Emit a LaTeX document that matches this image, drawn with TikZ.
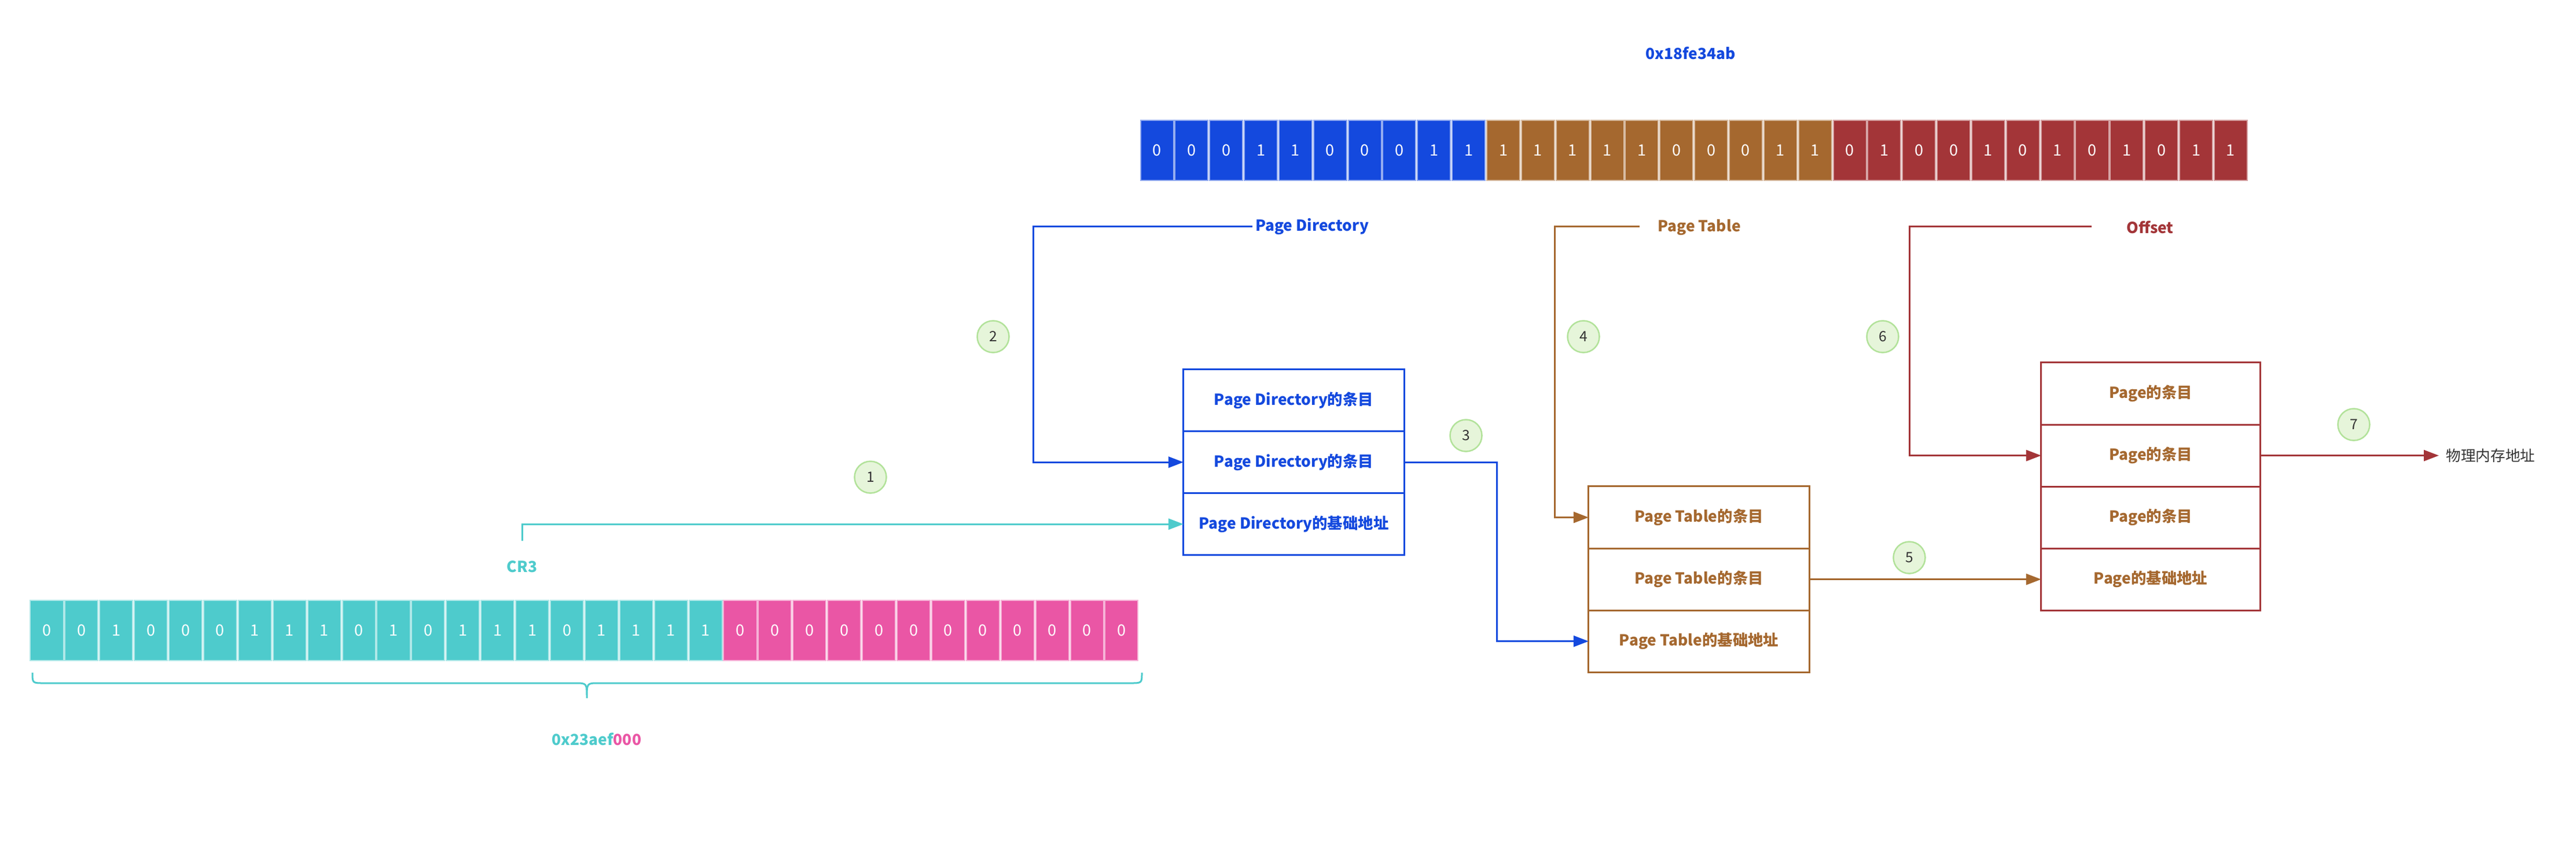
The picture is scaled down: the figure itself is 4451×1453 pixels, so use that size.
\documentclass[tikz,border=0pt]{standalone}
\usepackage{fontspec}
\setmainfont{Noto Sans CJK SC}
\usetikzlibrary{calc}
\usetikzlibrary{positioning}
\usetikzlibrary{arrows.meta}

\definecolor{pdblue}{HTML}{1449DE}
\definecolor{ptbrown}{HTML}{A5682F}
\definecolor{offred}{HTML}{A33538}
\definecolor{crteal}{HTML}{4ECBCC}
\definecolor{lowpink}{HTML}{EA56A5}
\definecolor{circfill}{HTML}{E6F5DA}
\definecolor{circdraw}{HTML}{B2E29A}
\definecolor{textgray}{HTML}{333333}

\tikzset{
    bit/.style={minimum width=0.57cm, minimum height=1.03cm, inner sep=0pt, draw=#1!45!white, fill=#1, line width=0.02cm, text=white, font=\fontsize{7.7}{9}\selectfont},
    entry/.style={draw=#1, line width=0.03cm, minimum height=1.07cm, outer sep=0pt, inner sep=0pt, fill=white, font=\fontsize{7.5}{9}\selectfont\bfseries},
    lbl/.style={inner sep=2pt, font=\fontsize{7.5}{9}\selectfont\bfseries},
    num/.style={circle, draw=circdraw, fill=circfill, line width=0.025cm, minimum size=0.55cm, inner sep=0pt, text=textgray, font=\fontsize{7}{8}\selectfont},
    link/.style={line width=0.03cm, draw=#1, -{Triangle[length=0.26cm, width=0.19cm, fill=#1]}},
}

\begin{document}
\begin{tikzpicture}[x=0.01cm, y=-0.01cm]
    \useasboundingbox (0,0) rectangle (4451,1453);

    % virtual address bits
    \foreach \b [count=\i from 0] in {0,0,0,1,1,0,0,0,1,1}
        \node[bit=pdblue] (va\i) at ({1999+59.85*\i},260) {\b};
    \foreach \b [count=\i from 10] in {1,1,1,1,1,0,0,0,1,1}
        \node[bit=ptbrown] (va\i) at ({1999+59.85*\i},260) {\b};
    \foreach \b [count=\i from 20] in {0,1,0,0,1,0,1,0,1,0,1,1}
        \node[bit=offred] (va\i) at ({1999+59.85*\i},260) {\b};
    \node[lbl, text=pdblue] (vaddr) at (2921,92) {0x18fe34ab};

    % CR3 bits
    \foreach \b [count=\i from 0] in {0,0,1,0,0,0,1,1,1,0,1,0,1,1,1,0,1,1,1,1}
        \node[bit=crteal] (cr\i) at ({81+59.9*\i},1090) {\b};
    \foreach \i in {20,...,31}
        \node[bit=lowpink] (cr\i) at ({81+59.9*\i},1090) {0};
    \draw[crteal, line width=0.03cm] (56,1163) .. controls (56,1181) .. (76,1181) -- (994,1181)
        .. controls (1014,1181) .. (1014,1207) .. controls (1014,1181) .. (1034,1181)
        -- (1953,1181) .. controls (1973,1181) .. (1973,1163);
    \node[lbl] (cr3val) at (1031,1278) {\textcolor{crteal}{0x23aef}\textcolor{lowpink}{000}};
    \node[lbl, text=crteal] (cr3lbl) at (902,980) {CR3};

    % labels above the tables
    \node[lbl, text=pdblue] (pdlbl) at (2267,392) {Page Directory};
    \node[lbl, text=ptbrown] (ptlbl) at (2936,393) {Page Table};
    \node[lbl, text=offred] (offlbl) at (3715,393) {Offset};

    % page directory
    \node[entry=pdblue, text=pdblue, minimum width=3.81cm] (pd1) at (2235.5,692) {Page Directory的条目};
    \node[entry=pdblue, text=pdblue, minimum width=3.81cm, below=0pt of pd1] (pd2) {Page Directory的条目};
    \node[entry=pdblue, text=pdblue, minimum width=3.81cm, below=0pt of pd2] (pd3) {Page Directory的基础地址};

    % page table
    \node[entry=ptbrown, text=ptbrown, minimum width=3.81cm] (pt1) at (2935.5,894.5) {Page Table的条目};
    \node[entry=ptbrown, text=ptbrown, minimum width=3.81cm, below=0pt of pt1] (pt2) {Page Table的条目};
    \node[entry=ptbrown, text=ptbrown, minimum width=3.81cm, below=0pt of pt2] (pt3) {Page Table的基础地址};

    % page
    \node[entry=offred, text=ptbrown, minimum width=3.78cm] (pg1) at (3716,680.5) {Page的条目};
    \node[entry=offred, text=ptbrown, minimum width=3.78cm, below=0pt of pg1] (pg2) {Page的条目};
    \node[entry=offred, text=ptbrown, minimum width=3.78cm, below=0pt of pg2] (pg3) {Page的条目};
    \node[entry=offred, text=ptbrown, minimum width=3.78cm, below=0pt of pg3] (pg4) {Page的基础地址};

    \node[anchor=west, text=textgray, font=\fontsize{7.3}{9}\selectfont] (phys) at (4214,787.5) {物理内存地址};

    % steps
    \node[num] (c1) at (1504,825) {1};
    \node[num] (c2) at (1716,582) {2};
    \node[num] (c3) at (2533,753) {3};
    \node[num] (c4) at (2736,582) {4};
    \node[num] (c5) at (3299,964) {5};
    \node[num] (c6) at (3253,582) {6};
    \node[num] (c7) at (4067,734) {7};

    % connectors
    \coordinate (cr3tail) at (902,935);
    \coordinate (pdtail) at (2164,391);
    \coordinate (pttail) at (2833,391);
    \coordinate (offtail) at (3614,391);
    \draw[link=crteal] (cr3tail) |- (pd3.west);
    \draw[link=pdblue] (pdtail) -- ++(-379,0) |- (pd2.west);
    \draw[link=pdblue] (pd2.east) -- ++(160,0) |- (pt3.west);
    \draw[link=ptbrown] (pttail) -- ++(-147,0) |- (pt1.west);
    \draw[link=ptbrown] (pt2.east) -- (pt2.east -| pg4.west);
    \draw[link=offred] (offtail) -- ++(-315,0) |- (pg2.west);
    \draw[link=offred] (pg2.east) -- (pg2.east -| phys.west);
\end{tikzpicture}
\end{document}
